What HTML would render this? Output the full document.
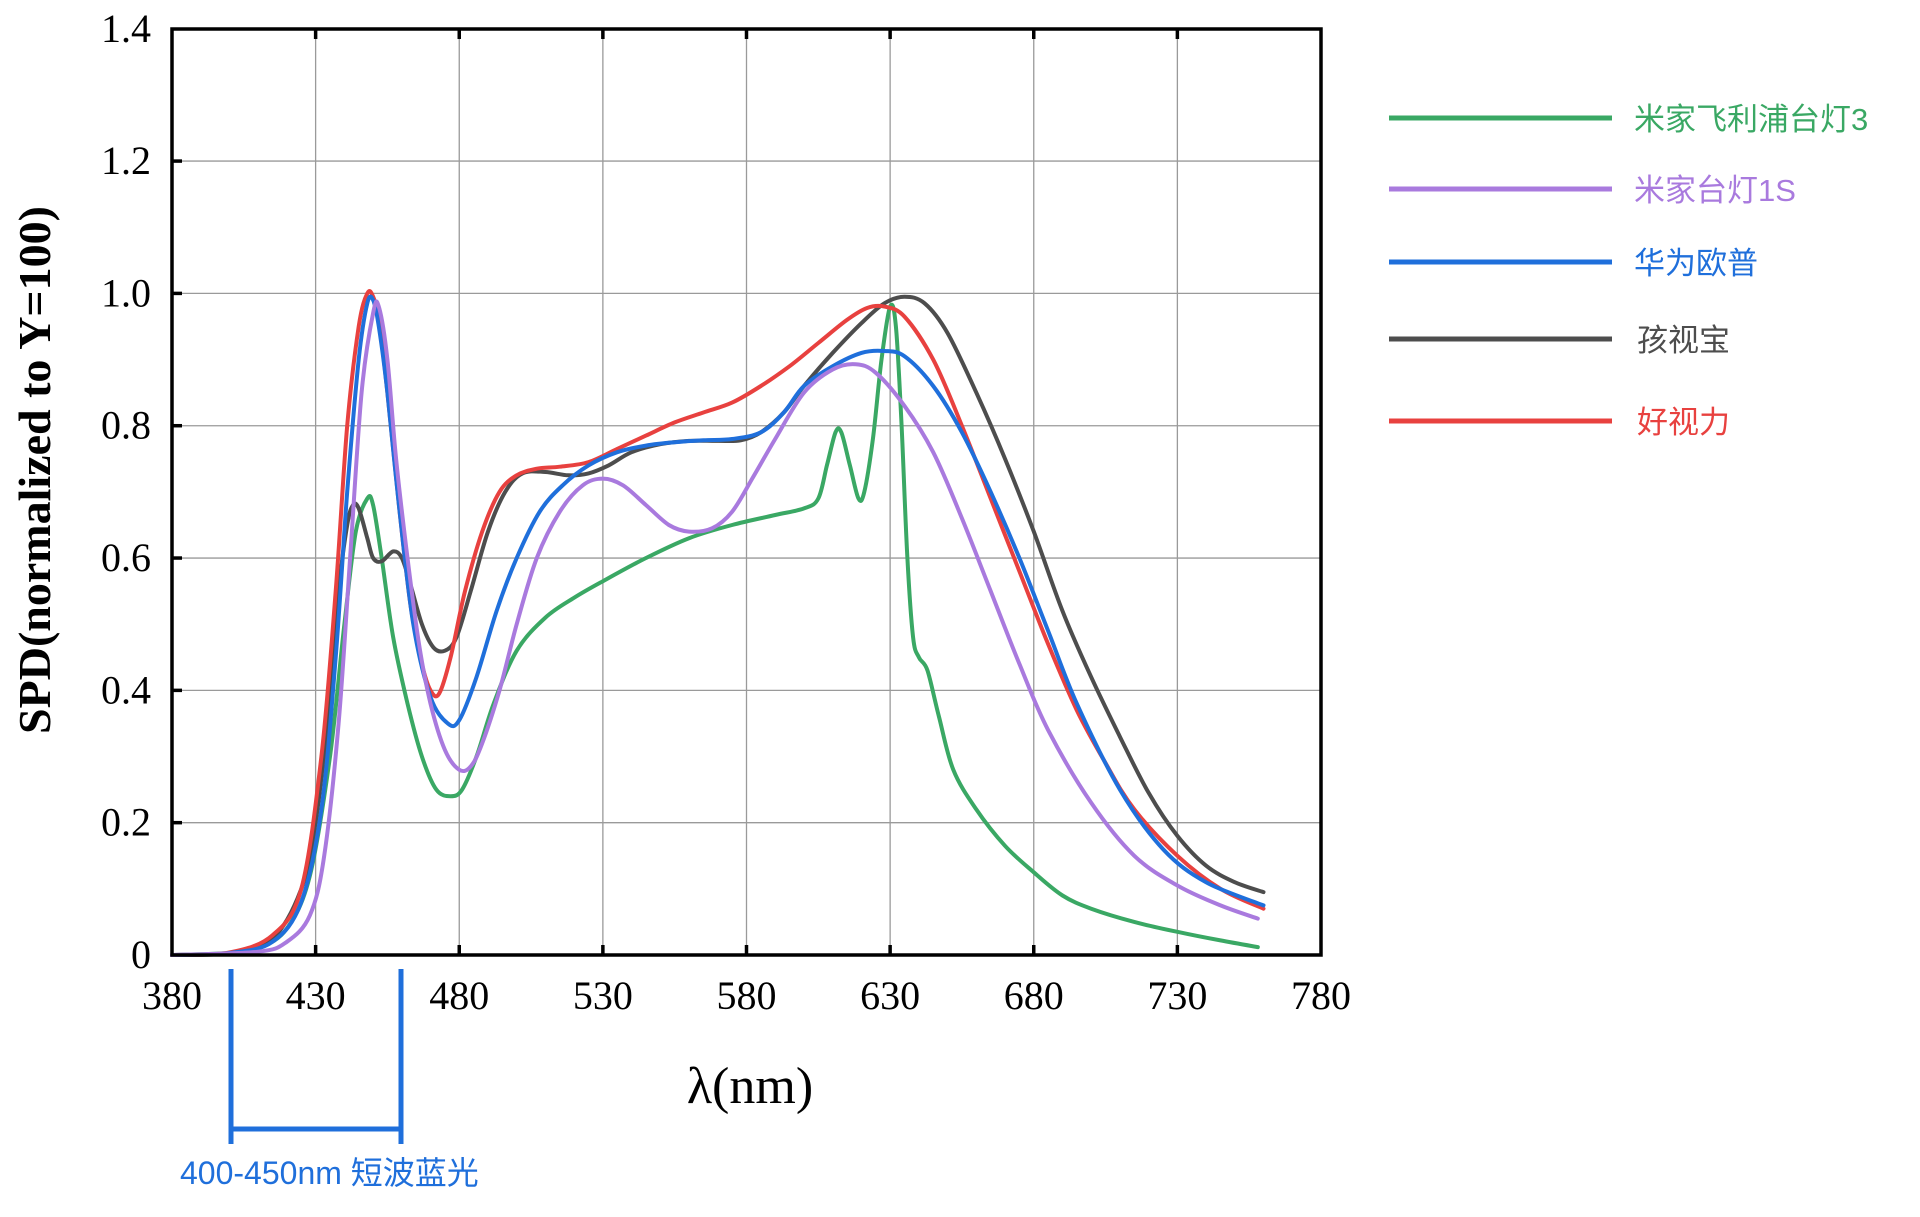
<!DOCTYPE html>
<html><head><meta charset="utf-8"><style>
html,body{margin:0;padding:0;background:#fff;}
svg{display:block;}
</style></head><body>
<svg id="s" width="1920" height="1217" xmlns="http://www.w3.org/2000/svg">
<rect width="1920" height="1217" fill="#fff"/>
<g id="grid" stroke="#9a9a9a" stroke-width="1.3"></g>
<g id="curves" fill="none" stroke-width="4" stroke-linejoin="round" stroke-linecap="round"></g>
<rect x="172" y="29" width="1149" height="926" fill="none" stroke="#000" stroke-width="3.5"/>
<g id="ticks" stroke="#000" stroke-width="3.5"></g>
<g id="lbl" font-family="Liberation Serif, serif" font-size="40" fill="#000"></g>
<text x="750" y="1103" font-family="Liberation Serif, serif" font-size="52" text-anchor="middle">λ(nm)</text>
<text transform="translate(50,470) rotate(-90)" font-family="Liberation Serif, serif" font-size="46" font-weight="bold" text-anchor="middle">SPD(normalized to Y=100)</text>
<g stroke="#1f6fdb" stroke-width="5" fill="none">
<line x1="231" y1="969" x2="231" y2="1144"/>
<line x1="401" y1="969" x2="401" y2="1144"/>
<line x1="231" y1="1129" x2="401" y2="1129"/>
</g>
<text x="180" y="1184" font-family="Liberation Sans, 'Noto Sans CJK SC', sans-serif" font-size="32" fill="#1f6fdb">400-450nm 短波蓝光</text>
<g font-family="Liberation Sans, 'Noto Sans CJK SC', sans-serif" font-size="31" stroke-width="5">
<line x1="1389" y1="118" x2="1612" y2="118" stroke="#3aa864"/><text x="1634" y="130" fill="#3aa864">米家飞利浦台灯3</text>
<line x1="1389" y1="189" x2="1612" y2="189" stroke="#a97ade"/><text x="1634" y="201" fill="#a97ade">米家台灯1S</text>
<line x1="1389" y1="262" x2="1612" y2="262" stroke="#1f6fdb"/><text x="1634" y="274" fill="#1f6fdb">华为欧普</text>
<line x1="1389" y1="339" x2="1612" y2="339" stroke="#4d4d4d"/><text x="1637" y="351" fill="#4d4d4d">孩视宝</text>
<line x1="1389" y1="421" x2="1612" y2="421" stroke="#e8413f"/><text x="1637" y="433" fill="#e8413f">好视力</text>
</g>
</svg>
<script>
var NS="http://www.w3.org/2000/svg";
function X(n){return 172+(n-380)*2.8725;}
function Y(v){return 955-v*661.6;}
function el(p,t,a,txt){var e=document.createElementNS(NS,t);for(var k in a)e.setAttribute(k,a[k]);if(txt)e.textContent=txt;document.getElementById(p).appendChild(e);}
for(var i=1;i<8;i++){var x=X(380+50*i);el('grid','line',{x1:x,y1:29,x2:x,y2:955});el('ticks','line',{x1:x,y1:955,x2:x,y2:945});el('ticks','line',{x1:x,y1:29,x2:x,y2:39});}
for(var i=1;i<7;i++){var y=Y(0.2*i);el('grid','line',{x1:172,y1:y,x2:1321,y2:y});el('ticks','line',{x1:172,y1:y,x2:182,y2:y});}
for(var i=0;i<=8;i++){el('lbl','text',{x:X(380+50*i),y:1009,'text-anchor':'middle'},String(380+50*i));}
var yl=['0','0.2','0.4','0.6','0.8','1.0','1.2','1.4'];
for(var i=0;i<8;i++){el('lbl','text',{x:151,y:Y(0.2*i)+13,'text-anchor':'end'},yl[i]);}
function path(d){var P=[];for(var i=0;i<d.length;i+=2)P.push([X(d[i]),Y(d[i+1])]);
var s="M"+P[0][0]+","+P[0][1];for(var i=0;i<P.length-1;i++){var p0=P[i-1]||P[i],p1=P[i],p2=P[i+1],p3=P[i+2]||p2;
var c1=[p1[0]+(p2[0]-p0[0])/6,p1[1]+(p2[1]-p0[1])/6],c2=[p2[0]-(p3[0]-p1[0])/6,p2[1]-(p3[1]-p1[1])/6];
s+="C"+c1[0].toFixed(1)+","+c1[1].toFixed(1)+" "+c2[0].toFixed(1)+","+c2[1].toFixed(1)+" "+p2[0].toFixed(1)+","+p2[1].toFixed(1);}return s;}
var G=[380,0,400,0.003,410,0.01,420,0.04,428,0.12,435,0.3,440,0.5,444,0.64,448,0.69,450,0.68,453,0.6,457,0.48,462,0.38,467,0.3,472,0.25,477,0.24,481,0.25,486,0.3,492,0.38,500,0.46,510,0.51,520,0.54,530,0.565,545,0.6,560,0.63,575,0.65,590,0.665,600,0.675,605,0.69,608,0.74,611,0.79,613,0.79,616,0.74,619,0.69,621,0.7,624,0.78,627,0.9,630,0.98,632,0.95,634,0.8,636,0.6,638,0.48,640,0.45,643,0.43,647,0.36,652,0.28,660,0.22,670,0.165,680,0.125,690,0.09,700,0.07,715,0.05,730,0.035,745,0.022,758,0.012];
var Pu=[380,0,410,0.005,420,0.02,428,0.06,433,0.15,438,0.35,442,0.6,446,0.85,450,0.97,452,0.98,455,0.9,458,0.75,462,0.6,466,0.47,470,0.38,475,0.31,480,0.28,484,0.285,488,0.32,494,0.4,500,0.5,507,0.6,515,0.67,523,0.71,530,0.72,537,0.71,545,0.68,553,0.65,560,0.64,568,0.645,575,0.67,582,0.72,590,0.78,600,0.85,610,0.885,618,0.893,625,0.88,635,0.83,645,0.76,655,0.66,665,0.55,675,0.44,685,0.34,700,0.23,715,0.15,730,0.105,745,0.075,758,0.055];
var B=[380,0,400,0.003,415,0.02,425,0.08,432,0.22,437,0.45,441,0.7,445,0.9,448,0.985,450,0.99,452,0.95,455,0.85,459,0.68,464,0.5,470,0.39,476,0.35,480,0.355,486,0.42,493,0.52,500,0.6,508,0.67,516,0.71,525,0.74,535,0.76,545,0.77,555,0.775,565,0.778,575,0.78,585,0.79,593,0.82,600,0.86,610,0.89,620,0.91,628,0.913,635,0.905,645,0.86,655,0.79,665,0.7,675,0.6,685,0.49,695,0.38,710,0.25,725,0.16,740,0.11,760,0.075];
var K=[380,0,400,0.003,415,0.025,425,0.1,430,0.2,434,0.35,438,0.55,441,0.65,443,0.68,445,0.675,448,0.63,450,0.6,453,0.595,457,0.61,460,0.6,463,0.56,467,0.5,471,0.465,475,0.46,479,0.48,484,0.55,490,0.64,496,0.7,502,0.728,510,0.73,518,0.725,525,0.728,532,0.74,540,0.76,550,0.772,560,0.777,570,0.777,578,0.778,585,0.79,593,0.82,600,0.86,610,0.91,620,0.955,628,0.985,635,0.995,642,0.985,650,0.94,660,0.85,670,0.75,680,0.64,690,0.52,700,0.42,710,0.33,720,0.245,730,0.18,740,0.135,750,0.11,760,0.095];
var R=[380,0,400,0.004,415,0.03,425,0.1,432,0.3,437,0.55,441,0.8,445,0.95,448,1.0,450,0.995,452,0.96,455,0.85,459,0.68,463,0.53,467,0.44,470,0.4,473,0.395,477,0.45,482,0.55,488,0.64,494,0.7,500,0.725,507,0.735,515,0.738,525,0.745,535,0.765,545,0.785,555,0.805,565,0.82,575,0.835,585,0.86,595,0.89,605,0.925,615,0.96,622,0.978,628,0.98,635,0.965,645,0.9,655,0.8,665,0.69,675,0.58,685,0.47,695,0.37,705,0.29,715,0.22,730,0.15,745,0.1,760,0.07];
el('curves','path',{d:path(G),stroke:'#3aa864'});
el('curves','path',{d:path(K),stroke:'#4d4d4d'});
el('curves','path',{d:path(R),stroke:'#e8413f'});
el('curves','path',{d:path(B),stroke:'#1f6fdb'});
el('curves','path',{d:path(Pu),stroke:'#a97ade'});
</script>
</body></html>
